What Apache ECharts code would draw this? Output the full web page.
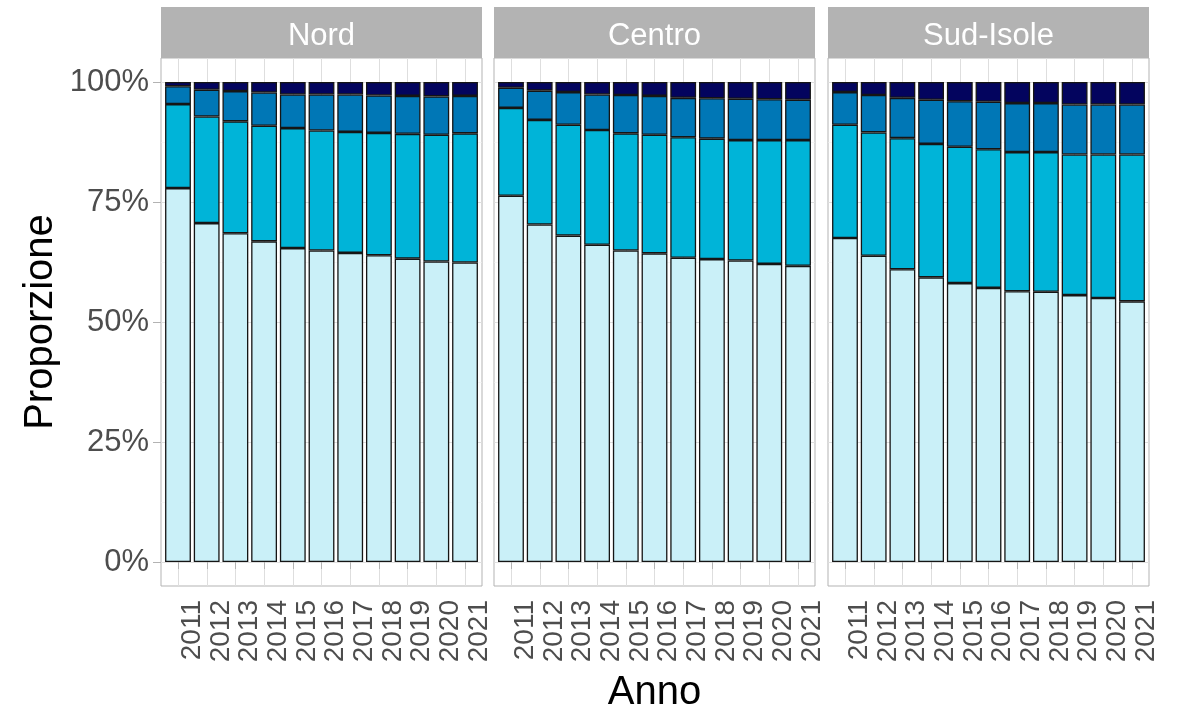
<!DOCTYPE html>
<html>
<head>
<meta charset="utf-8">
<script src="https://cdn.jsdelivr.net/npm/echarts@6/dist/echarts.min.js"></script>
<style>
html,body{margin:0;padding:0;background:#fff;}
#chart{width:1188px;height:713px;}
</style>
</head>
<body>
<div id="chart"></div>
<script>
// ---- data ----
const years = ['2011','2012','2013','2014','2015','2016','2017','2018','2019','2020','2021'];
const regions = ['Nord','Centro','Sud-Isole'];
const yTicks = [0, 25, 50, 75, 100];
const yMinorTicks = [12.5, 37.5, 62.5, 87.5];
const catNames = ['Classe 1','Classe 2','Classe 3','Classe 4'];

const nordC1 = [77.9, 70.6, 68.5, 66.8, 65.4, 64.9, 64.4, 63.9, 63.2, 62.6, 62.4];
const nordC2 = [17.5, 22.2, 23.3, 24.1, 25.0, 25.0, 25.2, 25.5, 26.0, 26.4, 26.9];
const nordC3 = [3.7, 5.6, 6.3, 6.9, 7.0, 7.5, 7.8, 7.8, 7.9, 8.0, 7.8];
const nordC4 = [0.9, 1.6, 1.9, 2.2, 2.6, 2.6, 2.6, 2.8, 2.9, 3.0, 2.9];

const centroC1 = [76.3, 70.3, 68.0, 66.1, 64.9, 64.3, 63.4, 63.1, 62.8, 62.1, 61.7];
const centroC2 = [18.3, 21.8, 23.1, 23.9, 24.4, 24.7, 25.1, 25.1, 25.1, 25.8, 26.2];
const centroC3 = [4.2, 6.1, 6.8, 7.4, 8.0, 8.1, 8.2, 8.4, 8.6, 8.5, 8.4];
const centroC4 = [1.2, 1.8, 2.1, 2.6, 2.7, 2.9, 3.3, 3.4, 3.5, 3.6, 3.7];

const sudC1 = [67.5, 63.8, 61.0, 59.3, 58.1, 57.1, 56.4, 56.3, 55.6, 55.0, 54.3];
const sudC2 = [23.6, 25.7, 27.3, 27.8, 28.4, 28.9, 29.0, 29.1, 29.3, 29.9, 30.6];
const sudC3 = [6.8, 7.8, 8.4, 9.2, 9.5, 9.9, 10.2, 10.2, 10.4, 10.4, 10.4];
const sudC4 = [2.1, 2.7, 3.3, 3.7, 4.0, 4.1, 4.4, 4.4, 4.7, 4.7, 4.7];

const regionData = [
  [nordC1, nordC2, nordC3, nordC4],
  [centroC1, centroC2, centroC3, centroC4],
  [sudC1, sudC2, sudC3, sudC4]
];
const colors = ['#caf0f8', '#00b4d8', '#0077b6', '#03045e'];

// ---- layout ----
const FONT = '"Liberation Sans", Arial, sans-serif';
const panelLeft = [161, 494, 828];
const panelWidth = 321;
const panelTop = 58;
const panelHeight = 528;
const stripTop = 7;
const stripHeight = 51;
const xPos = years.map((y, i) => i + 1);
const unit = panelWidth / (years.length + 1.2); // ggplot discrete expansion 0.6 each side
const inset = 0.1 * unit;

const grids = [], xAxes = [], yAxes = [], series = [], graphics = [];
regions.forEach((reg, r) => {
  const gOuter = grids.length;
  // outer panel grid: border, gridlines, ticks, labels
  grids.push({
    left: panelLeft[r], top: panelTop, width: panelWidth, height: panelHeight,
    show: true, backgroundColor: '#ffffff', borderColor: '#b3b3b3', borderWidth: 1,
    containLabel: false, outerBoundsMode: 'none'
  });
  // inner data grid: category band for the bars
  const gInner = grids.length;
  grids.push({
    left: panelLeft[r] + inset, top: panelTop, width: panelWidth - 2 * inset, height: panelHeight,
    show: false, containLabel: false, outerBoundsMode: 'none'
  });

  xAxes.push({
    type: 'value', gridIndex: gOuter, min: 0.4, max: 11.6,
    axisLine: {show: false},
    axisTick: {show: true, customValues: xPos, length: 7, lineStyle: {color: '#b3b3b3', width: 1}},
    axisLabel: {
      customValues: xPos, rotate: 90, margin: 14, fontSize: 28, fontFamily: FONT, color: '#4d4d4d',
      verticalAlign: 'top',
      formatter: v => years[Math.round(v) - 1] || ''
    },
    splitLine: {show: true, lineStyle: {color: '#dedede', width: 1}},
    name: r === 1 ? 'Anno' : '', nameLocation: 'middle', nameGap: 87,
    nameTextStyle: {fontSize: 40, fontFamily: FONT, color: '#000'}
  });
  const xInner = xAxes.length;
  xAxes.push({
    type: 'category', gridIndex: gInner, data: years, boundaryGap: true,
    axisLine: {show: false}, axisTick: {show: false}, axisLabel: {show: false}, splitLine: {show: false}
  });

  yAxes.push({
    type: 'value', gridIndex: gOuter, min: -5, max: 105, position: 'left',
    axisLine: {show: false},
    axisTick: {show: r === 0, customValues: yTicks, length: 8, lineStyle: {color: '#b3b3b3', width: 1}},
    axisLabel: {
      show: r === 0, customValues: yTicks, margin: 12, fontSize: 31, fontFamily: FONT, color: '#4d4d4d',
      formatter: v => v + '%'
    },
    splitLine: {show: true, lineStyle: {color: '#dedede', width: 1}},
    name: r === 0 ? 'Proporzione' : '', nameLocation: 'middle', nameGap: 100,
    nameTextStyle: {fontSize: 40, fontFamily: FONT, color: '#000'}
  });
  yAxes.push({
    type: 'value', gridIndex: gOuter, min: -5, max: 105, position: 'left',
    axisLine: {show: false},
    axisTick: {show: false, customValues: yMinorTicks},
    axisLabel: {show: false, customValues: yMinorTicks},
    splitLine: {show: true, lineStyle: {color: '#f0f0f0', width: 0.6}}
  });
  const yInner = yAxes.length;
  yAxes.push({
    type: 'value', gridIndex: gInner, min: -5, max: 105,
    axisLine: {show: false}, axisTick: {show: false}, axisLabel: {show: false}, splitLine: {show: false}
  });

  regionData[r].forEach((vals, k) => {
    series.push({
      type: 'bar', name: catNames[k], xAxisIndex: xInner, yAxisIndex: yInner,
      stack: 'reg' + r, barWidth: '90%', silent: true,
      itemStyle: {color: colors[k], borderColor: '#151515', borderWidth: 1.3},
      data: vals
    });
  });
  graphics.push({
    type: 'group', left: panelLeft[r], top: stripTop,
    children: [
      {type: 'rect', shape: {x: 0, y: 0, width: panelWidth, height: stripHeight}, style: {fill: '#b3b3b3'}},
      {type: 'text', x: panelWidth / 2, y: stripHeight / 2 + 4,
       style: {text: reg, fill: '#ffffff', font: '31px ' + FONT, textAlign: 'center', textVerticalAlign: 'middle'}}
    ]
  });
});

const chart = echarts.init(document.getElementById('chart'), null, {renderer: 'canvas'});
chart.setOption({
  backgroundColor: '#ffffff',
  animation: false,
  grid: grids,
  xAxis: xAxes,
  yAxis: yAxes,
  series: series,
  graphic: graphics
});
</script>
</body>
</html>
